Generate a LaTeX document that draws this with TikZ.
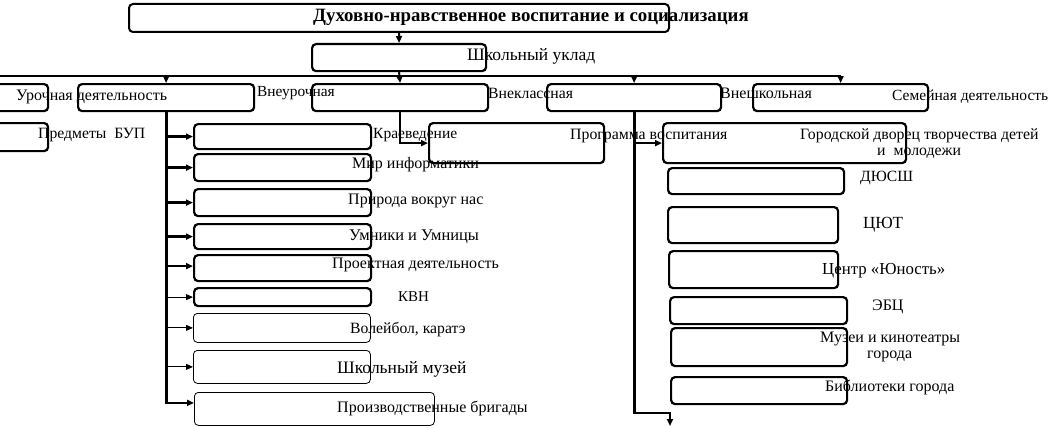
\documentclass[tikz,border=0pt]{standalone}
\usepackage{fontspec}
\setmainfont{Liberation Serif}
\usetikzlibrary{arrows.meta,calc}
\begin{document}
\begin{tikzpicture}[x=1pt,y=-1pt,
  box/.style={draw,line width=2.2pt,rounded corners=4pt,anchor=north west,inner sep=0pt},
  thinbox/.style={draw,line width=0.8pt,rounded corners=4pt,anchor=north west,inner sep=0pt},
  lbl/.style={anchor=west,inner sep=0pt,font=\rmfamily\fontsize{#1}{18}\selectfont},
  lbl/.default=16,
  ttl/.style={anchor=west,inner sep=0pt,font=\rmfamily\fontsize{18.8}{20}\selectfont\bfseries},
  arr/.style={line width=2.4pt,-{Triangle[length=7pt,width=6pt]}},
  tarr/.style={line width=0.9pt,-{Triangle[length=7pt,width=6pt]}},
  trunk/.style={line width=2.8pt}]
\clip (0,0) rectangle (1062,428);
\fill[white] (0,0) rectangle (1062,428);
% boxes
\node[box,line width=2pt,minimum width=540pt,minimum height=28pt] (T) at (128,3) {};
\node[box,minimum width=174pt,minimum height=27pt] (S) at (311,43) {};
\node[box,minimum width=87pt,minimum height=27pt] (A) at (-40,83) {};
\node[box,minimum width=176pt,minimum height=27pt] (B) at (77,83) {};
\node[box,minimum width=176pt,minimum height=27pt] (C) at (311,83) {};
\node[box,minimum width=174pt,minimum height=27pt] (D) at (546,83) {};
\node[box,minimum width=175pt,minimum height=27pt] (E) at (752,83) {};
\node[box,minimum width=87pt,minimum height=28pt] (U) at (-40,122) {};
% left column
\node[box,minimum width=177pt,minimum height=25pt] (b1) at (193,123) {};
\node[box,minimum width=177pt,minimum height=27pt] (b2) at (193,153) {};
\node[box,minimum width=177pt,minimum height=27pt] (b3) at (193,188) {};
\node[box,minimum width=177pt,minimum height=25pt] (b4) at (193,223) {};
\node[box,minimum width=177pt,minimum height=26pt] (b5) at (193,254) {};
\node[box,minimum width=177pt,minimum height=18pt] (b6) at (193,287) {};
\node[thinbox,minimum width=177pt,minimum height=29pt] (b7) at (193,313) {};
\node[thinbox,minimum width=177pt,minimum height=33pt] (b8) at (193,350) {};
\node[thinbox,minimum width=240pt,minimum height=33pt] (b9) at (194,392) {};
% middle
\node[box,minimum width=175pt,minimum height=40pt] (P) at (428,122) {};
% right column
\node[box,minimum width=243pt,minimum height=40pt] (r1) at (662,122) {};
\node[box,minimum width=176pt,minimum height=26pt] (r2) at (667,167) {};
\node[box,minimum width=170pt,minimum height=36pt] (r3) at (667,206) {};
\node[box,minimum width=169pt,minimum height=37pt] (r4) at (668,250) {};
\node[box,minimum width=177pt,minimum height=27pt] (r5) at (669,296) {};
\node[box,minimum width=176pt,minimum height=38pt] (r6) at (670,327) {};
\node[box,minimum width=176pt,minimum height=27pt] (r7) at (670,376) {};
% texts
\node[ttl] (tT) at (313,17) {Духовно-нравственное воспитание и социализация};
\node[lbl=17.5] (tS) at (467,56) {Школьный уклад};
\node[lbl] (tA) at (16,97) {Урочная деятельность};
\node[lbl=15.4] (tB) at (257,93) {Внеурочная};
\node[lbl=15.7] (tC) at (488,93) {Внеклассная};
\node[lbl] (tD) at (720,93) {Внешкольная};
\node[lbl=15.5] (tE) at (892,97) {Семейная деятельность};
\node[lbl=15.7] (tU) at (38,135) {Предметы\ \ БУП};
\node[lbl=15.5] (t1) at (373,135) {Краеведение};
\node[lbl] (t2) at (352,165) {Мир информатики};
\node[lbl] (t3) at (348,201) {Природа вокруг нас};
\node[lbl=16.4] (t4) at (349,237) {Умники и Умницы};
\node[lbl] (t5) at (332,265) {Проектная деятельность};
\node[lbl=15] (t6) at (398,297) {КВН};
\node[lbl=15.7] (t7) at (350,330) {Волейбол, каратэ};
\node[lbl=17.5] (t8) at (337,369) {Школьный музей};
\node[lbl] (t9) at (337,408) {Производственные бригады};
\node[lbl=15.8] (tP) at (570,136) {Программа воспитания};
\node[lbl=15.8] (tr1) at (800,136) {Городской дворец творчества детей};
\node[lbl=15.8] (tr1b) at (877,153) {и\ \ молодежи};
\node[lbl=15.6] (tr2) at (860,178) {ДЮСШ};
\node[lbl=17] (tr3) at (863,225) {ЦЮТ};
\node[lbl=16.8] (tr4) at (822,271) {Центр «Юность»};
\node[lbl] (tr5) at (872,307) {ЭБЦ};
\node[lbl] (tr6) at (820,339) {Музеи и кинотеатры};
\node[lbl] (tr6b) at (867,356) {города};
\node[lbl] (tr7) at (825,387) {Библиотеки города};
% connectors top
\coordinate (L0) at (0,76);
\draw[trunk] (L0) -- (E.north |- L0);
\draw[arr,line width=2pt] (T.south) -- (S.north);
\draw[arr,line width=2pt] (S.south) -- (C.north);
\draw[arr,line width=1.5pt] (B.north |- L0) -- (B.north);
\draw[arr,line width=1.5pt] (D.north |- L0) -- (D.north);
\draw[arr,line width=1.5pt] (E.north |- L0) -- (E.north);
% left trunk
\draw[arr,line width=2.8pt] (B.south) |- ([yshift=6pt]b9.west);
\draw[arr] (B.south |- b1.west) -- (b1.west);
\draw[arr] (B.south |- b2.west) -- (b2.west);
\draw[arr] (B.south |- b3.west) -- (b3.west);
\draw[arr] (B.south |- b4.west) -- (b4.west);
\draw[arr] ([yshift=2pt]B.south |- b5.west) -- ([yshift=2pt]b5.west);
\draw[tarr] (B.south |- b6.west) -- (b6.west);
\draw[tarr] (B.south |- b7.west) -- (b7.west);
\draw[tarr] (B.south |- b8.west) -- (b8.west);
% middle
\draw[arr] (C.south) |- (P.west);
% right trunk
\coordinate (Rend) at (670,426);
\draw[arr,line width=2.8pt] (D.south) |- (Rend |- 0,413) -- (Rend);
\draw[arr] (D.south |- r1.west) -- (r1.west);
\end{tikzpicture}
\end{document}
